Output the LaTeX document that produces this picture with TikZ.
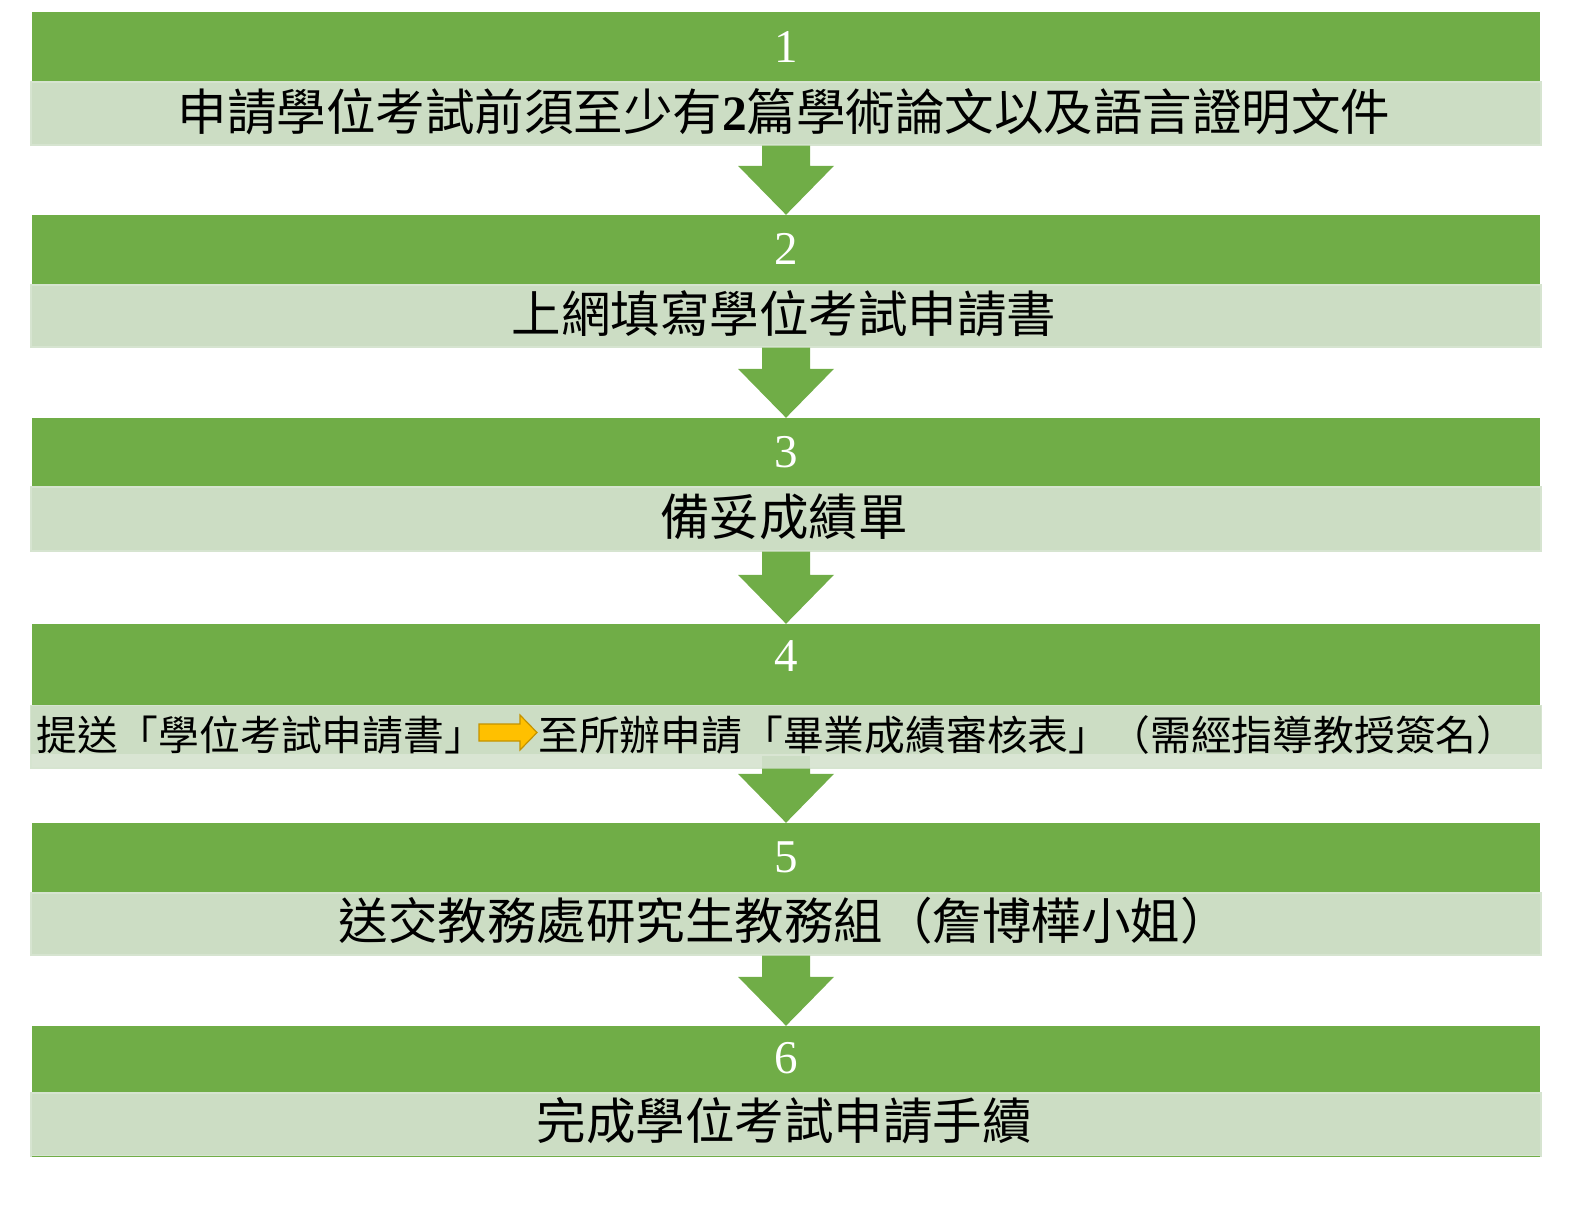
\documentclass[tikz,border=0pt]{standalone}
\usepackage{fontspec}
\setmainfont{Liberation Serif}
\newfontfamily\cjk{Noto Sans CJK TC}
\usetikzlibrary{calc}
\definecolor{dk}{HTML}{70AD47}
\definecolor{lt}{HTML}{CCDDC4}
\definecolor{ltb}{HTML}{D6E4D0}
\definecolor{ltx}{HTML}{D9E5D3}
\definecolor{org}{HTML}{FFC000}
\definecolor{orgb}{HTML}{C49300}
\tikzset{
  dbar/.style={fill=dk, inner sep=0pt, minimum width=1508pt},
  lbar/.style={fill=lt, draw=ltb, line width=1.2pt, inner sep=0pt, minimum width=1510pt},
  num/.style={text=white, inner sep=0pt, font=\fontsize{47}{50}\selectfont},
  txt/.style={inner sep=0pt, font=\cjk\fontsize{49.5}{55}\selectfont},
  txtsmall/.style={inner sep=0pt, font=\cjk\fontsize{40.8}{46}\selectfont},
  flow/.style={fill=dk},
}
\newcommand\flowarrow[2]{%
  \fill[flow] let \p1=(#1.south), \p2=(#2.north) in
    (\x1-24pt,\y1) -- (\x1+24pt,\y1) -- (\x1+24pt,\y2+49pt) -- (\x1+48pt,\y2+49pt)
    -- (\x1,\y2) -- (\x1-48pt,\y2+49pt) -- (\x1-24pt,\y2+49pt) -- cycle;}
\begin{document}
\begin{tikzpicture}[x=1pt,y=-1pt]
\useasboundingbox (0,0) rectangle (1573,1208);
% bars
\node[dbar, minimum height=70pt] (d1) at (786,47) {};
\node[lbar, minimum height=63pt] (l1) at (786,113.5) {};
\node[dbar, minimum height=70pt] (d2) at (786,250) {};
\node[lbar, minimum height=62pt] (l2) at (786,316) {};
\node[dbar, minimum height=69pt] (d3) at (786,452.5) {};
\node[lbar, minimum height=64pt] (l3) at (786,519) {};
\node[dbar, minimum height=82pt] (d4) at (786,665) {};
\node[lbar, fill=ltx, minimum height=62pt] (l4) at (786,737) {};
\fill[lt] ($(l4.north west)+(0.6,0.6)$) rectangle ($(l4.north east)+(-0.6,49)$);
\node[dbar, minimum height=70pt] (d5) at (786,858) {};
\node[lbar, minimum height=62pt] (l5) at (786,924) {};
\node[dbar, minimum height=67pt] (d6) at (786,1059.5) {};
\node[lbar, minimum height=63pt] (l6) at (786,1124.5) {};
\draw[dk, line width=1.5pt] ($(l6.south west)+(2,0)$) -- ($(l6.south east)+(-2,0)$);
% numbers
\node[num] (n1) at (786,47) {1};
\node[num] (n2) at (786,249) {2};
\node[num] (n3) at (786,452) {3};
\node[num] (n4) at (786,656) {4};
\node[num] (n5) at (786,857) {5};
\node[num] (n6) at (786,1058) {6};
% texts
\node[txt] (t1) at (784,112) {申請學位考試前須至少有{\rmfamily\bfseries 2}篇學術論文以及語言證明文件};
\node[txt] (t2) at (784,314) {上網填寫學位考試申請書};
\node[txt] (t3) at (784,517) {備妥成績單};
\node[txtsmall, anchor=west] (t4a) at (36,735) {提送「學位考試申請書」};
\node[txtsmall, anchor=west] (t4b) at (538,735) {至所辦申請「畢業成績審核表」（需經指導教授簽名）};
\fill[org, draw=orgb, line width=1.2pt] (479,724) -- (520,724) -- (520,715) -- (537,732.5) -- (520,750) -- (520,741) -- (479,741) -- cycle;
\node[txt] (t5) at (784,921) {送交教務處研究生教務組（詹博樺小姐）};
\node[txt] (t6) at (784,1121) {完成學位考試申請手續};
% flow arrows
\flowarrow{l1}{d2}
\flowarrow{l2}{d3}
\flowarrow{l3}{d4}
\fill[lt] ($(l4.south)+(-24,-13)$) rectangle ($(l4.south)+(24,0)$);
\flowarrow{l4}{d5}
\flowarrow{l5}{d6}
\end{tikzpicture}
\end{document}
